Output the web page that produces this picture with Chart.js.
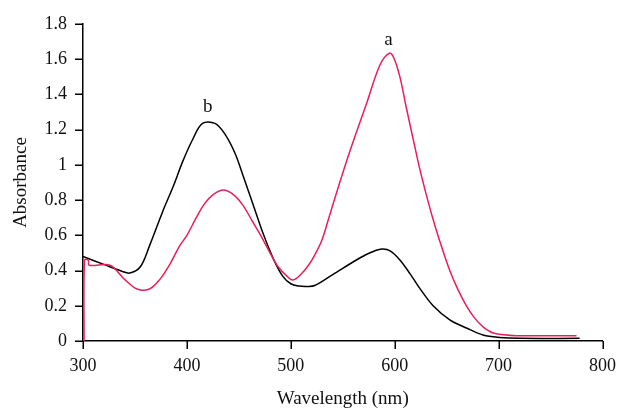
<!DOCTYPE html>
<html>
<head>
<meta charset="utf-8">
<script src="https://cdn.jsdelivr.net/npm/chart.js@4/dist/chart.umd.min.js"></script>
<style>
  html, body { margin: 0; padding: 0; background: #fff; }
  #wrap { width: 622px; height: 410px; position: relative; }
</style>
</head>
<body>
<div id="wrap"><canvas id="spectra" width="622" height="410"></canvas></div>
<script>
// ---------- Data ----------
// curve a (pink)
const wavelengthA = [301, 301.5, 305, 306, 326, 340, 352, 364, 374, 384, 393, 400, 409, 417, 425, 435, 445, 454, 463, 471, 480, 488, 496, 502, 510, 517, 523, 530, 536, 545, 557, 573, 586, 595, 599, 605, 611, 618, 624, 630, 636, 643, 653, 661, 669, 677, 685, 690, 695, 705, 717, 775];
const absorbanceA = [0, 0.46, 0.46, 0.43, 0.43, 0.35, 0.295, 0.295, 0.35, 0.44, 0.54, 0.60, 0.70, 0.78, 0.83, 0.857, 0.83, 0.77, 0.68, 0.60, 0.50, 0.42, 0.37, 0.346, 0.38, 0.43, 0.488, 0.574, 0.687, 0.86, 1.08, 1.35, 1.57, 1.635, 1.61, 1.50, 1.33, 1.14, 0.98, 0.84, 0.71, 0.574, 0.40, 0.29, 0.20, 0.13, 0.08, 0.06, 0.045, 0.035, 0.03, 0.03];

// curve b (black)
const wavelengthB = [300, 320, 338, 345, 355, 364, 377, 387, 396, 406, 415, 427, 436, 446, 454, 464, 474, 483, 492, 500, 508, 516, 523, 540, 566, 578, 588, 596, 605, 615, 624, 637, 653, 669, 685, 701, 720, 778];
const absorbanceB = [0.48, 0.435, 0.395, 0.386, 0.42, 0.54, 0.74, 0.88, 1.02, 1.15, 1.236, 1.236, 1.18, 1.07, 0.94, 0.77, 0.60, 0.47, 0.37, 0.325, 0.312, 0.31, 0.315, 0.376, 0.47, 0.505, 0.522, 0.51, 0.46, 0.38, 0.30, 0.20, 0.12, 0.074, 0.034, 0.02, 0.015, 0.015];

const xTicks = [300, 400, 500, 600, 700, 800];
const yTicks = [0, 0.2, 0.4, 0.6, 0.8, 1, 1.2, 1.4, 1.6, 1.8];

// peak annotations: [text, wavelength, absorbance]
const peakLabels = [['a', 594, 1.68], ['b', 420, 1.30]];

const SERIF = '"Liberation Serif", "DejaVu Serif", serif';
const PINK = '#e91e5a';
const TICK_LEN = 8;

function toPoints(xs, ys) {
    return xs.map((x, i) => ({ x: x, y: ys[i] }));
}

// outward tick marks + the "a" / "b" letters above the peaks
const decorPlugin = {
    id: 'decor',
    afterDraw(chart) {
        const ctx = chart.ctx;
        const xs = chart.scales.x, ys = chart.scales.y;
        const area = chart.chartArea;
        ctx.save();
        ctx.strokeStyle = '#000';
        ctx.lineWidth = 1.5;
        ctx.beginPath();
        xTicks.forEach(v => {
            const px = Math.round(xs.getPixelForValue(v)) + 0.25;
            ctx.moveTo(px, area.bottom);
            ctx.lineTo(px, area.bottom + TICK_LEN);
        });
        yTicks.forEach(v => {
            const py = Math.round(ys.getPixelForValue(v)) + 0.25;
            ctx.moveTo(area.left, py);
            ctx.lineTo(area.left - TICK_LEN, py);
        });
        ctx.stroke();

        ctx.fillStyle = '#111';
        ctx.font = '19px ' + SERIF;
        ctx.textAlign = 'center';
        ctx.textBaseline = 'alphabetic';
        peakLabels.forEach(p => {
            ctx.fillText(p[0], xs.getPixelForValue(p[1]), ys.getPixelForValue(p[2]));
        });
        ctx.restore();
    }
};

const tickGrid = () => ({ display: false, drawTicks: true, tickLength: TICK_LEN });

const ctx = document.getElementById('spectra').getContext('2d');
new Chart(ctx, {
    type: 'line',
    data: {
        datasets: [
            { label: 'a', data: toPoints(wavelengthA, absorbanceA), borderColor: PINK, borderWidth: 1.5, pointRadius: 0, tension: 0.35, fill: false },
            { label: 'b', data: toPoints(wavelengthB, absorbanceB), borderColor: '#000', borderWidth: 1.5, pointRadius: 0, tension: 0.35, fill: false }
        ]
    },
    options: {
        responsive: false,
        animation: false,
        devicePixelRatio: 1,
        layout: { padding: { top: 24, right: 19, left: 0, bottom: 0 } },
        plugins: { legend: { display: false }, tooltip: { enabled: false } },
        scales: {
            x: {
                type: 'linear',
                min: 300, max: 800,
                afterBuildTicks: s => { s.ticks = xTicks.map(v => ({ value: v })); },
                afterFit: s => { s.height = 69; },
                ticks: { color: '#111', font: { family: SERIF, size: 18 }, padding: 6, maxRotation: 0 },
                grid: tickGrid(),
                border: { display: true, color: '#000', width: 1.5 },
                title: { display: true, text: 'Wavelength (nm)', color: '#111', font: { family: SERIF, size: 19 }, padding: { top: 13, bottom: 0 } }
            },
            y: {
                type: 'linear',
                min: 0, max: 1.8,
                afterBuildTicks: s => { s.ticks = yTicks.map(v => ({ value: v })); },
                afterFit: s => { s.width = 83; },
                ticks: { color: '#111', font: { family: SERIF, size: 18 }, padding: 8, callback: v => String(v) },
                grid: tickGrid(),
                border: { display: true, color: '#000', width: 1.5 },
                title: { display: true, text: 'Absorbance', color: '#111', font: { family: SERIF, size: 19 }, padding: { top: 10, bottom: 4 } }
            }
        }
    },
    plugins: [decorPlugin]
});
</script>
</body>
</html>
